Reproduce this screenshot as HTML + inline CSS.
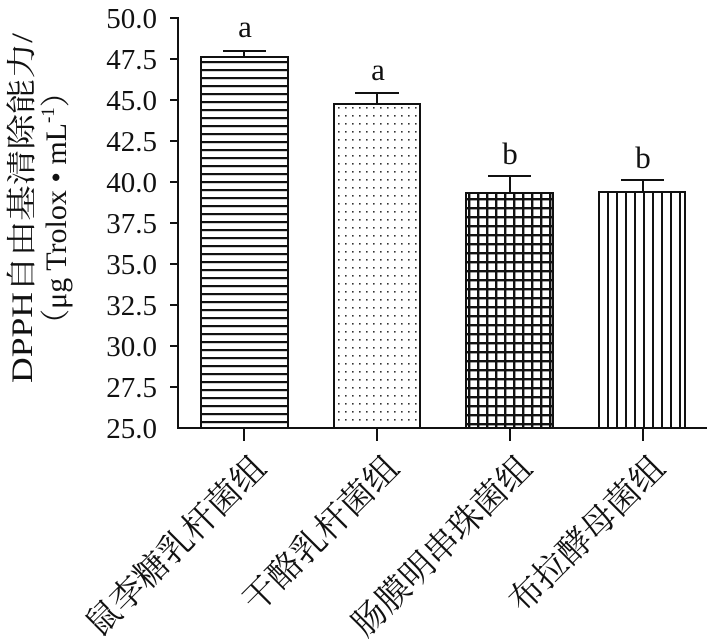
<!DOCTYPE html><html><head><style>body{margin:0;background:#fff}svg{display:block}text{font-family:"Liberation Serif","Noto Serif CJK SC",serif;fill:#111}</style></head><body>
<svg width="707" height="643" viewBox="0 0 707 643">
<defs>
<pattern id="ph" width="10" height="8" patternUnits="userSpaceOnUse"><rect width="10" height="8" fill="#fff"/><rect y="5" width="10" height="2.2" fill="#111"/></pattern>
<pattern id="pd" width="7" height="8" patternUnits="userSpaceOnUse"><rect width="7" height="8" fill="#fff"/><rect x="2" y="3" width="1.6" height="1.6" fill="#333"/></pattern>
<pattern id="pg" width="9" height="9" patternUnits="userSpaceOnUse"><rect width="9" height="9" fill="#fff"/><rect x="0" width="2.4" height="9" fill="#111"/><rect y="0" width="9" height="2.4" fill="#111"/></pattern>
<pattern id="pv" width="9" height="10" patternUnits="userSpaceOnUse"><rect width="9" height="10" fill="#fff"/><rect x="4" width="2" height="10" fill="#111"/></pattern>
</defs>
<g stroke="#111" stroke-width="2" fill="none">
<line x1="178" y1="17" x2="178" y2="429"/>
<line x1="177" y1="428" x2="707" y2="428"/>
</g>
<g stroke="#111" stroke-width="2">
<line x1="170" y1="18" x2="178" y2="18"/><line x1="170" y1="59" x2="178" y2="59"/><line x1="170" y1="100" x2="178" y2="100"/><line x1="170" y1="141" x2="178" y2="141"/><line x1="170" y1="182" x2="178" y2="182"/><line x1="170" y1="223" x2="178" y2="223"/><line x1="170" y1="264" x2="178" y2="264"/><line x1="170" y1="305" x2="178" y2="305"/><line x1="170" y1="346" x2="178" y2="346"/><line x1="170" y1="387" x2="178" y2="387"/>
<line x1="244" y1="428" x2="244" y2="441"/><line x1="377" y1="428" x2="377" y2="441"/><line x1="510" y1="428" x2="510" y2="441"/><line x1="643" y1="428" x2="643" y2="441"/>
</g>
<g font-size="29" text-anchor="end">
<text x="157" y="28">50.0</text><text x="157" y="69">47.5</text><text x="157" y="110">45.0</text><text x="157" y="151">42.5</text><text x="157" y="192">40.0</text><text x="157" y="233">37.5</text><text x="157" y="274">35.0</text><text x="157" y="315">32.5</text><text x="157" y="356">30.0</text><text x="157" y="397">27.5</text><text x="157" y="438">25.0</text>
</g>
<g stroke="#111" stroke-width="2">
<rect x="201" y="57" width="87" height="371" fill="url(#ph)"/>
<rect x="334" y="104" width="86" height="324" fill="url(#pd)"/>
<rect x="466" y="193" width="87" height="235" fill="url(#pg)"/>
<rect x="599" y="192" width="86" height="236" fill="url(#pv)"/>
<line x1="244" y1="51" x2="244" y2="57"/><line x1="223" y1="51" x2="266" y2="51"/>
<line x1="377" y1="93" x2="377" y2="104"/><line x1="355" y1="93" x2="399" y2="93"/>
<line x1="510" y1="176" x2="510" y2="193"/><line x1="488" y1="176" x2="531" y2="176"/>
<line x1="643" y1="180" x2="643" y2="192"/><line x1="621" y1="180" x2="664" y2="180"/>
</g>
<g font-size="31" text-anchor="middle">
<text x="245" y="37">a</text><text x="378" y="80">a</text><text x="510" y="164">b</text><text x="643" y="168">b</text>
</g>
<g font-size="30" text-anchor="middle">
<text transform="translate(32,208) rotate(-90)" textLength="350" lengthAdjust="spacingAndGlyphs">DPPH自由基清除能力/</text>
<text transform="translate(66,208) rotate(-90)">（μg Trolox • mL<tspan font-size="19" dy="-12">-1</tspan><tspan dy="12">）</tspan></text>
</g>
<g font-size="34" text-anchor="end">
<text transform="translate(268,470) rotate(-45)">鼠李糖乳杆菌组</text>
<text transform="translate(401,470) rotate(-45)">干酪乳杆菌组</text>
<text transform="translate(534,470) rotate(-45)">肠膜明串珠菌组</text>
<text transform="translate(667,470) rotate(-45)">布拉酵母菌组</text>
</g>
</svg></body></html>
